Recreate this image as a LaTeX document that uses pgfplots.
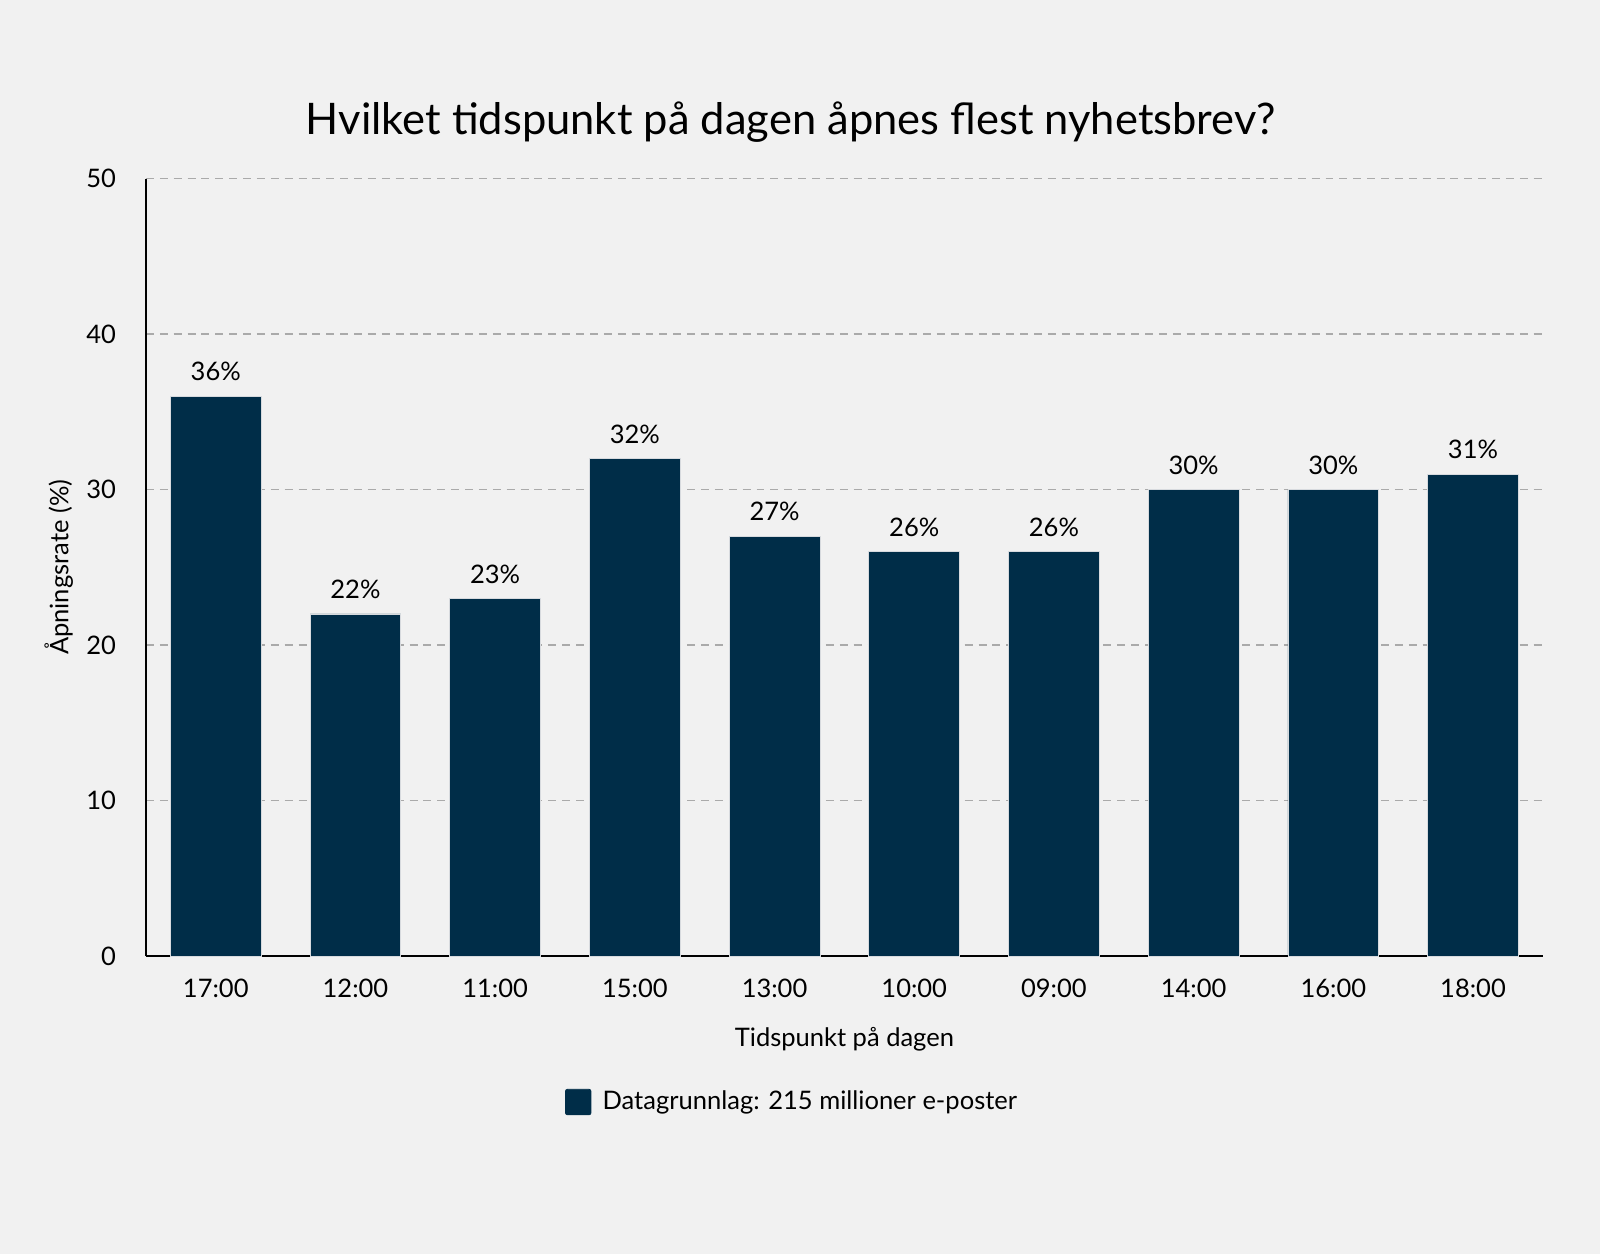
\documentclass[border=0pt]{standalone}
\usepackage{pgfplots}
\pgfplotsset{compat=1.18}
\usepackage{fontspec}
\setmainfont{Lato}
\definecolor{bg}{HTML}{F1F1F1}
\definecolor{navy}{RGB}{0,45,72}
\definecolor{gridgray}{HTML}{AAAAAA}
\newcommand{\fs}{\fontsize{12.5}{15}\selectfont}
\begin{document}
\begin{tikzpicture}
\fill[bg] (0,0) rectangle (784pt,614.5pt);
\begin{axis}[
  at={(71.5pt,146pt)}, anchor=south west,
  scale only axis, width=684.5pt, height=381pt,
  xmin=-0.5, xmax=9.5, ymin=0, ymax=50,
  axis lines*=left,
  axis line style={-, black, line width=1pt},
  xtick=data,
  xticklabels={17:00,12:00,11:00,15:00,13:00,10:00,09:00,14:00,16:00,18:00},
  ytick={0,10,20,30,40,50},
  major tick length=0pt,
  tick style={draw=none},
  /pgf/number format/assume math mode=true,
  ticklabel style={font=\fs},
  xticklabel style={anchor=base, inner sep=0pt, yshift=-20.5pt},
  yticklabel style={anchor=east, inner sep=0pt, xshift=-14.5pt},
  ymajorgrids,
  grid style={gridgray, line width=0.6pt, dash pattern=on 3.9pt off 2.9pt},
  xlabel={Tidspunkt på dagen},
  xlabel style={font=\fs, at={(axis description cs:0.5,-0.1168)}, anchor=base},
  ylabel={Åpningsrate (\%)},
  ylabel style={font=\fs, at={(axis description cs:-0.0555,0.5)}, anchor=base},
  title={Hvilket tidspunkt på dagen åpnes flest nyhetsbrev?},
  title style={font=\fontsize{21.3}{25}\selectfont, at={(axis description cs:0.4617,1.0407)}, anchor=base},
  legend style={at={(axis description cs:0.4633,-0.1877)}, anchor=center, draw=none, fill=none, font=\fs,
    legend cell align=left},
  legend image code/.code={\fill[navy, rounded corners=1pt] (0pt,-6.25pt) rectangle (12.5pt,6.25pt);},
  nodes near coords,
  point meta=explicit symbolic,
  nodes near coords style={font=\fs, anchor=base, inner sep=0pt, yshift=7.5pt, text=black},
]
\addplot[ybar, bar width=0.65, fill=navy, draw={rgb,255:red,215;green,218;blue,222}, line width=0.4pt]
  coordinates {
  (0,36) [36\%]
  (1,22) [22\%]
  (2,23) [23\%]
  (3,32) [32\%]
  (4,27) [27\%]
  (5,26) [26\%]
  (6,26) [26\%]
  (7,30) [30\%]
  (8,30) [30\%]
  (9,31) [31\%]
  };
\addlegendentry{\hspace{3.5pt}Datagrunnlag: 215 millioner e-poster}
\end{axis}
\pgfresetboundingbox
\path[use as bounding box] (0,0) rectangle (784pt,614.5pt);
\end{tikzpicture}
\end{document}
